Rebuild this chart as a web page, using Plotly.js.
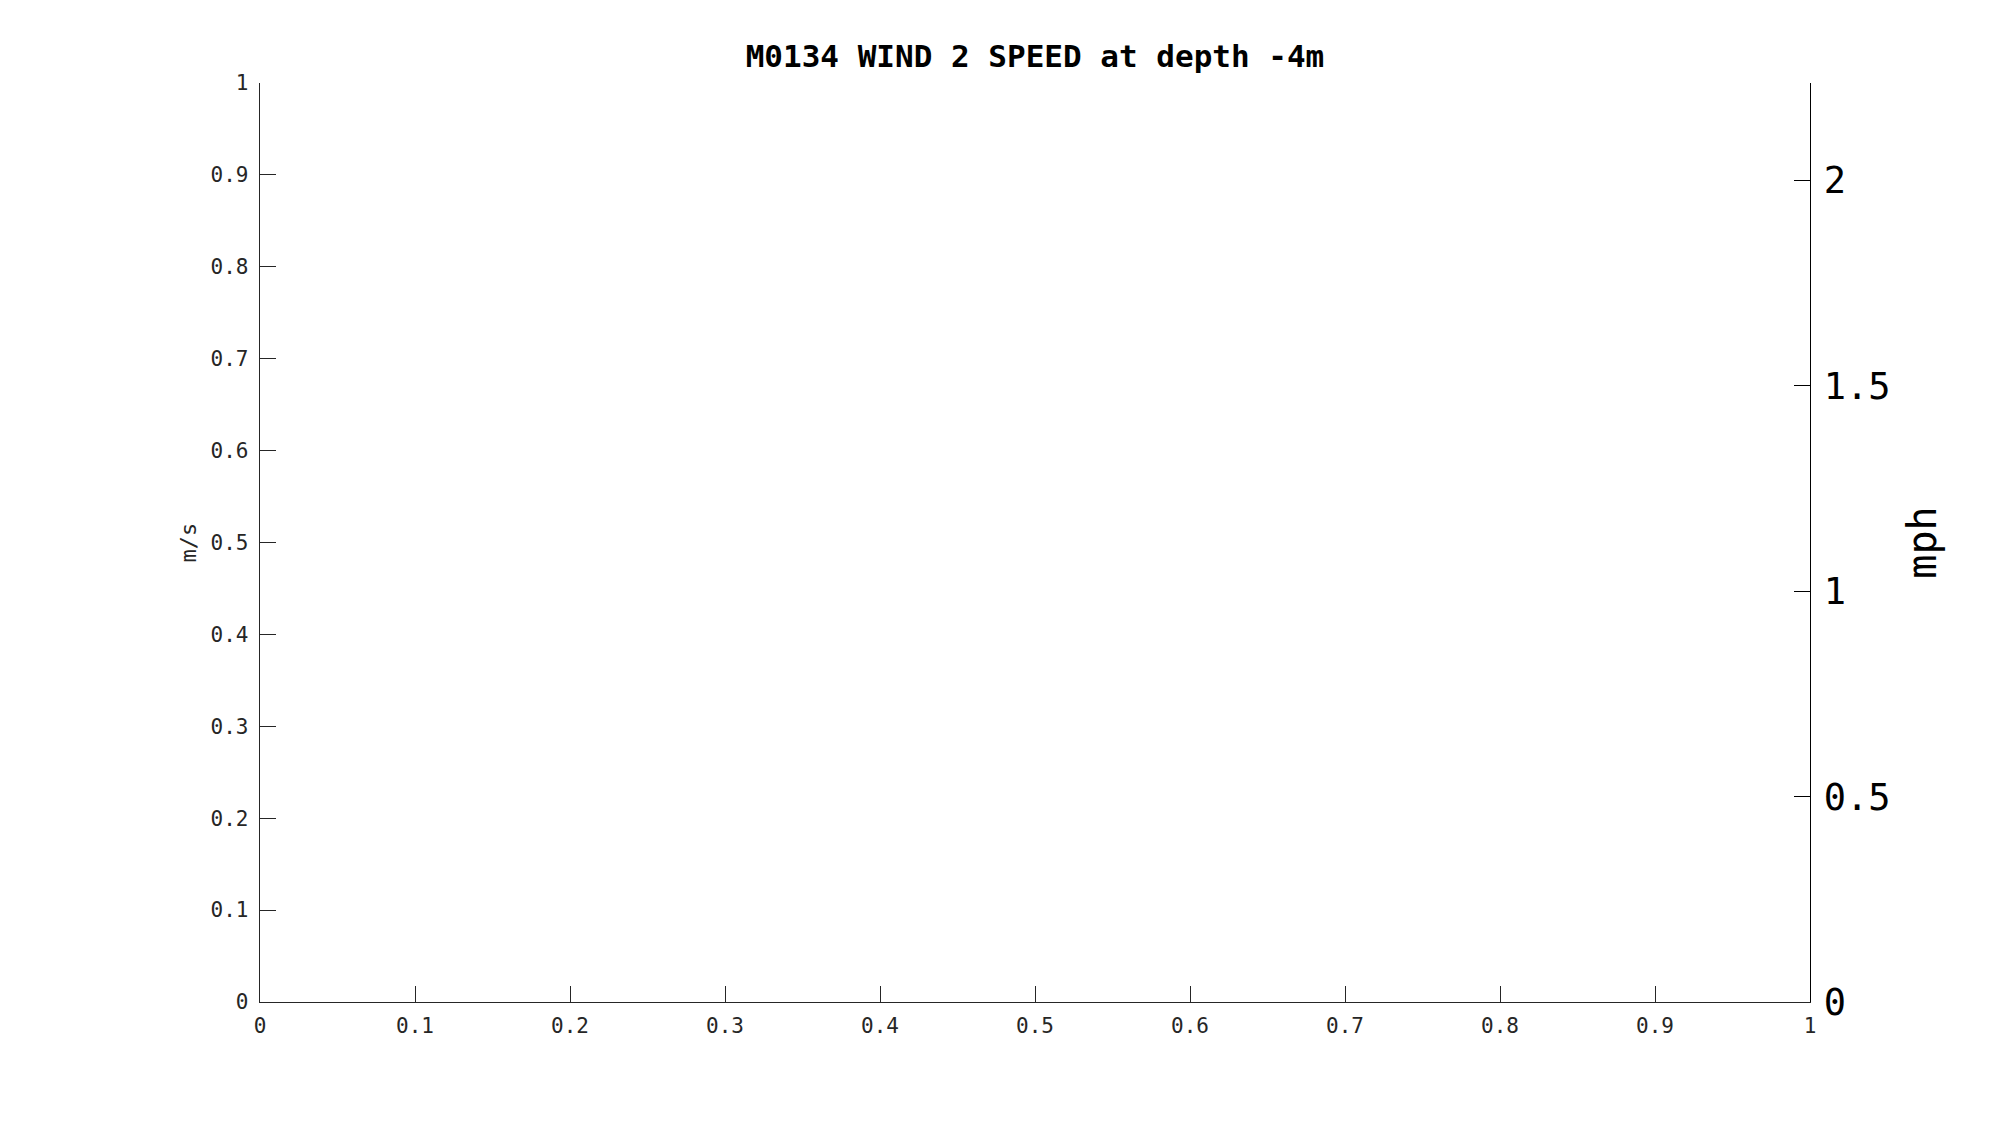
<!DOCTYPE html>
<html>
<head>
<meta charset="utf-8">
<script src="https://cdn.plot.ly/plotly-3.0.1.min.js"></script>
<style>html,body{margin:0;padding:0;background:#fff;}#chart{width:2000px;height:1125px;}</style>
</head>
<body>
<div id="chart"></div>
<script>
// Chart content (the reference chart has no data plotted)
const chartTitle = "M0134 WIND 2 SPEED at depth -4m";
const leftAxisTitle = "m/s";
const rightAxisTitle = "mph";
const speedMs = [];          // wind speed values (m/s) - none in reference
const timeValues = [];       // x values - none in reference
const xTickVals = [0, 0.1, 0.2, 0.3, 0.4, 0.5, 0.6, 0.7, 0.8, 0.9, 1];
const xTickText = ["0", "0.1", "0.2", "0.3", "0.4", "0.5", "0.6", "0.7", "0.8", "0.9", "1"];
const leftTickVals = [0, 0.1, 0.2, 0.3, 0.4, 0.5, 0.6, 0.7, 0.8, 0.9, 1];
const leftTickText = ["0", "0.1", "0.2", "0.3", "0.4", "0.5", "0.6", "0.7", "0.8", "0.9", "1"];
const rightTickVals = [0, 0.5, 1, 1.5, 2];
const rightTickText = ["0", "0.5", "1", "1.5", "2"];
const msToMph = 2.23694;
const leftRange = [0, 1];
const xRange = [0, 1];

const mono = "DejaVu Sans Mono";
const traces = [
  {x: timeValues, y: speedMs, type: "scatter", mode: "lines", xaxis: "x", yaxis: "y",
   line: {color: "#0072bd"}, showlegend: false, hoverinfo: "skip"},
  {x: timeValues, y: speedMs.map(v => v * msToMph), type: "scatter", mode: "lines", xaxis: "x", yaxis: "y2",
   line: {color: "#0072bd"}, showlegend: false, hoverinfo: "skip"}
];

const layout = {
  width: 2000, height: 1125,
  paper_bgcolor: "#ffffff", plot_bgcolor: "#ffffff",
  margin: {l: 260, r: 190, t: 83, b: 123, pad: 0},
  showlegend: false,
  title: {
    text: "<b>" + chartTitle + "</b>",
    font: {family: mono, size: 31, color: "#000000"},
    x: 0.5, xref: "paper", xanchor: "center",
    y: 1 - 56 / 1125, yref: "container", yanchor: "middle"
  },
  xaxis: {
    range: xRange, tickmode: "array", tickvals: xTickVals, ticktext: xTickText,
    ticks: "inside", ticklen: 16, tickwidth: 1, tickcolor: "#262626",
    showline: true, linecolor: "#262626", linewidth: 1.3, mirror: false,
    showgrid: false, zeroline: false,
    tickfont: {family: mono, size: 21, color: "#262626"}, ticklabelstandoff: 4
  },
  yaxis: {
    range: leftRange, tickmode: "array", tickvals: leftTickVals, ticktext: leftTickText,
    ticks: "inside", ticklen: 16, tickwidth: 1, tickcolor: "#262626",
    showline: true, linecolor: "#262626", linewidth: 1.3, mirror: false,
    showgrid: false, zeroline: false,
    tickfont: {family: mono, size: 21, color: "#262626"}, ticklabelstandoff: 6,
    title: {text: leftAxisTitle, font: {family: mono, size: 22, color: "#262626"}, standoff: 8}
  },
  yaxis2: {
    overlaying: "y", side: "right",
    range: [leftRange[0] * msToMph, leftRange[1] * msToMph],
    tickmode: "array", tickvals: rightTickVals, ticktext: rightTickText,
    ticks: "inside", ticklen: 16, tickwidth: 1, tickcolor: "#000000",
    showline: true, linecolor: "#000000", linewidth: 1.3, mirror: false,
    showgrid: false, zeroline: false,
    tickfont: {family: mono, size: 37, color: "#000000"}, ticklabelstandoff: 5,
    title: {text: rightAxisTitle, font: {family: mono, size: 40, color: "#000000"}, standoff: 18}
  }
};

Plotly.newPlot("chart", traces, layout, {displayModeBar: false, staticPlot: true});
</script>
</body>
</html>
